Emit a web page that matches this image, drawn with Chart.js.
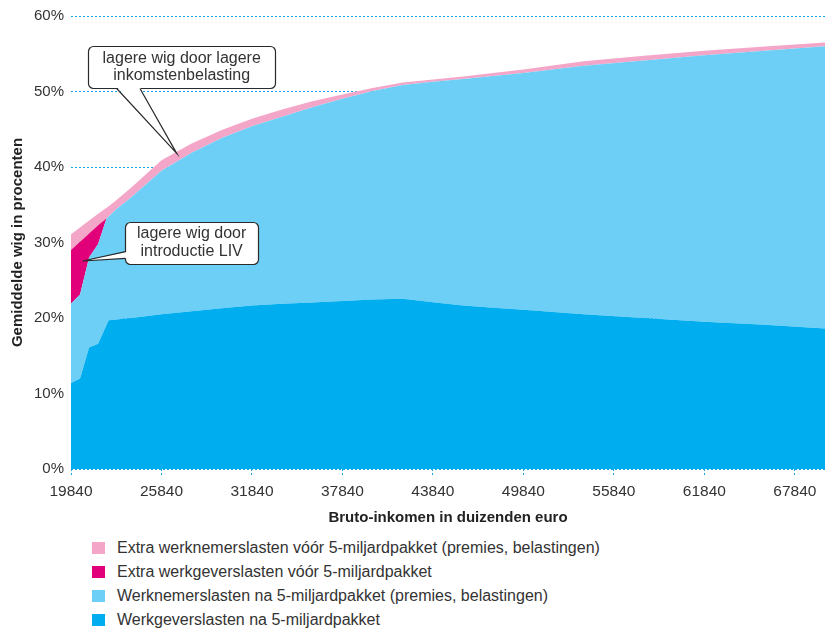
<!DOCTYPE html>
<html>
<head>
<meta charset="utf-8">
<script src="https://cdn.jsdelivr.net/npm/chart.js@4"></script>
<style>
html,body{margin:0;padding:0;background:#fff;}
#wrap{position:relative;width:825px;height:630px;overflow:hidden;font-family:"Liberation Sans",Arial,sans-serif;}
#c{position:absolute;left:0;top:0;}
#legend{position:absolute;left:92px;top:536px;margin:0;padding:0;list-style:none;}
#legend li{height:24px;display:flex;align-items:center;font-size:16px;color:#333;white-space:nowrap;}
#legend .sw{display:inline-block;width:13px;height:12px;margin-right:12px;flex:none;}
</style>
</head>
<body>
<div id="wrap">
  <canvas id="c" width="825" height="530"></canvas>
  <ul id="legend"></ul>
</div>
<script>
// ---- data ----
const incomes = [19840, 20440, 21040, 21640, 22200, 22340, 22840, 23840, 25840, 27840, 29840, 31840, 33840, 35840, 37840, 39840, 41840, 43840, 45840, 47840, 49840, 53840, 57840, 61840, 65840, 69840];
const werkgeverslastenNa = [11.4, 12.0, 16.1, 16.6, 19.1, 19.7, 19.8, 20.0, 20.5, 20.9, 21.3, 21.65, 21.9, 22.05, 22.25, 22.45, 22.55, 22.1, 21.65, 21.35, 21.1, 20.5, 20.0, 19.5, 19.1, 18.6];
const werknemerslastenNa = [10.5, 11.1, 11.9, 13.2, 14.1, 13.75, 14.6, 16.0, 19.0, 21.0, 22.55, 23.75, 24.75, 25.85, 26.8, 27.6, 28.3, 29.2, 30.0, 30.7, 31.35, 32.9, 34.1, 35.3, 36.3, 37.4];
const extraWerkgeverslasten = [7.1, 7.0, 3.2, 2.5, 0, 0, 0, 0, 0, 0, 0, 0, 0, 0, 0, 0, 0, 0, 0, 0, 0, 0, 0, 0, 0, 0];
const extraWerknemerslasten = [2.1, 1.9, 1.7, 1.5, 1.4, 1.35, 1.2, 1.3, 1.4, 1.2, 1.05, 1.0, 0.95, 0.8, 0.55, 0.4, 0.35, 0.3, 0.35, 0.4, 0.45, 0.6, 0.65, 0.6, 0.55, 0.5];
const xTickValues = [19840, 25840, 31840, 37840, 43840, 49840, 55840, 61840, 67840];
const seriesLabels = [
  'Werkgeverslasten na 5-miljardpakket',
  'Werknemerslasten na 5-miljardpakket (premies, belastingen)',
  'Extra werkgeverslasten vóór 5-miljardpakket',
  'Extra werknemerslasten vóór 5-miljardpakket (premies, belastingen)'
];
const xTitle = 'Bruto-inkomen in duizenden euro';
const yTitle = 'Gemiddelde wig in procenten';

// ---- styles ----
const colors = ['#00AEEF', '#6DCFF6', '#E2007A', '#F4A6C8'];
const gridBlue = '#12A6E4';
const FONT = '"Liberation Sans", Arial, sans-serif';
const TEXT = '#333333';

const seriesValues = [werkgeverslastenNa, werknemerslastenNa, extraWerkgeverslasten, extraWerknemerslasten];
const datasets = seriesValues.map((vals, i) => ({
  label: seriesLabels[i],
  data: incomes.map((x, j) => ({x: x, y: vals[j]})),
  backgroundColor: colors[i],
  borderColor: colors[i],
  borderWidth: 0,
  pointRadius: 0,
  tension: 0,
  fill: i === 0 ? 'origin' : '-1'
}));

// annotation callouts (anchored in data units)
const callouts = [
  {lines: ['lagere wig door lagere', 'inkomstenbelasting'], cx: 27180, cy: 53.2, w: 187, h: 42,
   tipX: 26850, tipY: 41.8, side: 'bottom', base: [-65, -41.7]},
  {lines: ['lagere wig door', 'introductie LIV'], cx: 27840, cy: 30.0, w: 133, h: 42,
   tipX: 20616, tipY: 27.55, side: 'left', base: [9.2, 15.8]}
];

function roundRect(ctx, x, y, w, h, r) {
  ctx.beginPath();
  ctx.moveTo(x + r, y);
  ctx.lineTo(x + w - r, y);
  ctx.arcTo(x + w, y, x + w, y + r, r);
  ctx.lineTo(x + w, y + h - r);
  ctx.arcTo(x + w, y + h, x + w - r, y + h, r);
  ctx.lineTo(x + r, y + h);
  ctx.arcTo(x, y + h, x, y + h - r, r);
  ctx.lineTo(x, y + r);
  ctx.arcTo(x, y, x + r, y, r);
  ctx.closePath();
}

const calloutPlugin = {
  id: 'callouts',
  afterDatasetsDraw(chart) {
    const ctx = chart.ctx, xs = chart.scales.x, ys = chart.scales.y;
    callouts.forEach(c => {
      const cx = xs.getPixelForValue(c.cx), cy = ys.getPixelForValue(c.cy);
      const bx = Math.round(cx - c.w / 2) + 0.5, by = Math.round(cy - c.h / 2) + 0.5;
      const tx = xs.getPixelForValue(c.tipX), ty = ys.getPixelForValue(c.tipY);
      let b1, b2, b1i, b2i;
      if (c.side === 'bottom') {
        b1 = {x: cx + c.base[0], y: by + c.h}; b2 = {x: cx + c.base[1], y: by + c.h};
        b1i = {x: b1.x, y: b1.y - 1.5}; b2i = {x: b2.x, y: b2.y - 1.5};
      } else {
        b1 = {x: bx, y: cy + c.base[0]}; b2 = {x: bx, y: cy + c.base[1]};
        b1i = {x: b1.x + 1.5, y: b1.y}; b2i = {x: b2.x + 1.5, y: b2.y};
      }
      ctx.save();
      ctx.lineWidth = 1.2;
      ctx.strokeStyle = '#2a2a2a';
      ctx.fillStyle = '#ffffff';
      roundRect(ctx, bx, by, c.w, c.h, 5);
      ctx.fill();
      ctx.stroke();
      ctx.beginPath();
      ctx.moveTo(b1i.x, b1i.y); ctx.lineTo(tx, ty); ctx.lineTo(b2i.x, b2i.y); ctx.closePath();
      ctx.fill();
      ctx.beginPath();
      ctx.moveTo(b1.x, b1.y); ctx.lineTo(tx, ty); ctx.lineTo(b2.x, b2.y);
      ctx.stroke();
      ctx.fillStyle = TEXT;
      ctx.font = '16px ' + FONT;
      ctx.textAlign = 'center';
      ctx.textBaseline = 'middle';
      const lh = 17.5;
      c.lines.forEach((t, i) => {
        ctx.fillText(t, cx, cy + (i - (c.lines.length - 1) / 2) * lh);
      });
      ctx.restore();
    });
  }
};

const chart = new Chart(document.getElementById('c'), {
  type: 'line',
  data: {datasets: datasets},
  plugins: [calloutPlugin],
  options: {
    responsive: false,
    animation: false,
    devicePixelRatio: 1,
    layout: {padding: {top: 16, left: 0, right: 0, bottom: 0}},
    plugins: {legend: {display: false}, tooltip: {enabled: false}},
    scales: {
      x: {
        type: 'linear',
        min: 19840,
        max: 69840,
        afterBuildTicks: s => { s.ticks = xTickValues.map(v => ({value: v})); },
        afterFit: s => { s.height = 61; },
        grid: {drawOnChartArea: false, drawTicks: true, tickLength: 8, tickColor: gridBlue, tickBorderDash: [2, 2], tickWidth: 1},
        border: {display: false},
        ticks: {padding: 5, color: TEXT, autoSkip: false, maxRotation: 0,
                font: {family: FONT, size: 15.5}, callback: v => String(v)},
        title: {display: true, text: xTitle, color: '#222', font: {family: FONT, size: 15, weight: 'bold'},
                padding: {top: 0, bottom: 3}}
      },
      y: {
        stacked: true,
        min: 0,
        max: 60,
        afterFit: s => { s.width = 71; },
        grid: {color: gridBlue, lineWidth: 1, drawTicks: false},
        border: {display: false, dash: [2, 2]},
        ticks: {stepSize: 10, padding: 7, color: TEXT, font: {family: FONT, size: 15},
                callback: v => v + '%'},
        title: {display: true, text: yTitle, color: '#222', font: {family: FONT, size: 15, weight: 'bold'},
                padding: {top: 9, bottom: 0}}
      }
    }
  }
});

// legend (top to bottom = top layer to bottom layer)
const legend = document.getElementById('legend');
[3, 2, 1, 0].forEach(i => {
  const li = document.createElement('li');
  const sw = document.createElement('span');
  sw.className = 'sw';
  sw.style.background = colors[i];
  li.appendChild(sw);
  li.appendChild(document.createTextNode(seriesLabels[i]));
  legend.appendChild(li);
});
</script>
</body>
</html>
